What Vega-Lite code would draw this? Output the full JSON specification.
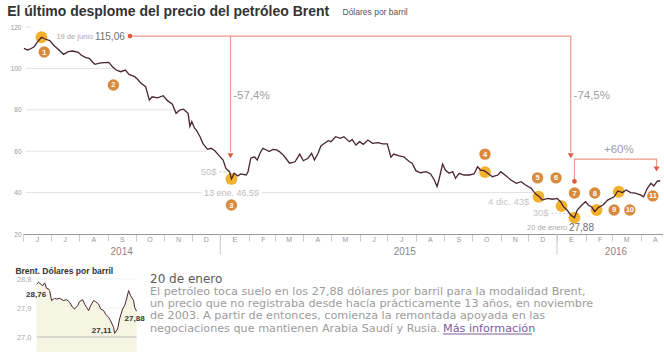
{
  "$schema": "https://vega.github.io/schema/vega-lite/v6.json",
  "background": "white",
  "padding": {"left": 7, "top": 5, "right": 0, "bottom": 0},
  "title": {"text": "El último desplome del precio del petróleo Brent", "anchor": "start", "fontSize": 14, "fontWeight": "bold", "font": "Liberation Sans", "color": "#333333", "offset": -12, "dx": -3},
  "spacing": 8,
  "config": {"view": {"stroke": null}, "font": "Liberation Sans", "axis": {"labelFont": "Liberation Sans Narrow, Liberation Sans, sans-serif"}},
  "datasets": {
    "insignias": [
      {"fecha": "2014-06-24", "precio": 107.9, "numero": "1"},
      {"fecha": "2014-09-07", "precio": 92.0, "numero": "2"},
      {"fecha": "2015-01-13", "precio": 34.0, "numero": "3"},
      {"fecha": "2015-10-15", "precio": 58.6, "numero": "4"},
      {"fecha": "2015-12-11", "precio": 47.1, "numero": "5"},
      {"fecha": "2015-12-31", "precio": 47.1, "numero": "6"},
      {"fecha": "2016-01-20", "precio": 39.8, "numero": "7"},
      {"fecha": "2016-02-11", "precio": 39.8, "numero": "8"},
      {"fecha": "2016-03-03", "precio": 31.6, "numero": "9"},
      {"fecha": "2016-03-20", "precio": 31.6, "numero": "10"},
      {"fecha": "2016-04-14", "precio": 38.4, "numero": "11"}
    ],
    "intradia": [
      {"minuto": 0, "precio": 28.64}, {"minuto": 2, "precio": 28.70}, {"minuto": 6, "precio": 28.59}, {"minuto": 8, "precio": 28.68},
      {"minuto": 10, "precio": 28.51}, {"minuto": 12, "precio": 28.49}, {"minuto": 13, "precio": 28.44}, {"minuto": 15, "precio": 28.13},
      {"minuto": 18, "precio": 28.20}, {"minuto": 20, "precio": 28.18}, {"minuto": 23, "precio": 28.20}, {"minuto": 27, "precio": 28.13},
      {"minuto": 30, "precio": 28.16}, {"minuto": 33, "precio": 28.08}, {"minuto": 36, "precio": 27.92}, {"minuto": 38, "precio": 27.87},
      {"minuto": 41, "precio": 27.97}, {"minuto": 43, "precio": 28.10}, {"minuto": 46, "precio": 28.16}, {"minuto": 48, "precio": 28.02},
      {"minuto": 50, "precio": 27.92}, {"minuto": 52, "precio": 27.82}, {"minuto": 54, "precio": 27.97}, {"minuto": 57, "precio": 28.13},
      {"minuto": 59, "precio": 28.10}, {"minuto": 62, "precio": 28.02}, {"minuto": 64, "precio": 27.87}, {"minuto": 67, "precio": 27.82},
      {"minuto": 69, "precio": 27.71}, {"minuto": 72, "precio": 27.61}, {"minuto": 74, "precio": 27.50}, {"minuto": 77, "precio": 27.30},
      {"minuto": 78, "precio": 27.11}, {"minuto": 81, "precio": 27.25}, {"minuto": 83, "precio": 27.56}, {"minuto": 86, "precio": 27.87},
      {"minuto": 88, "precio": 27.97}, {"minuto": 90, "precio": 28.18}, {"minuto": 92, "precio": 28.44}, {"minuto": 94, "precio": 28.28},
      {"minuto": 97, "precio": 28.13}, {"minuto": 98, "precio": 27.92}, {"minuto": 100, "precio": 27.80}
    ]
  },
  "vconcat": [
    {
      "width": 640,
      "height": 207,
      "encoding": {
        "x": {"field": "fecha", "type": "temporal",
          "scale": {"type": "utc", "domain": [{"year": 2014, "month": 6, "date": 1, "utc": true}, {"year": 2016, "month": 4, "date": 25, "utc": true}]},
          "axis": {"title": null, "grid": false, "tickCount": {"interval": "month", "step": 1},
            "labelExpr": "['E','F','M','A','M','J','J','A','S','O','N','D'][utcmonth(datum.value)]",
            "labelOffset": 14, "labelAlign": "center", "labelFontSize": 7, "labelColor": "#999999", "labelPadding": -6,
            "labelFlush": false, "labelOverlap": false, "labelBound": false,
            "tickSize": 7, "tickColor": "#cccccc", "domainColor": "#999999"}},
        "y": {"field": "precio", "type": "quantitative", "scale": {"domain": [20, 120]},
          "axis": {"values": [20, 40, 60, 80, 100, 120], "grid": false, "ticks": false, "tickSize": 0, "domain": false,
            "labelFontSize": 6.5, "labelColor": "#999999", "labelPadding": 2,
            "title": "Dólares por barril", "titleAngle": 0, "titleAlign": "left", "titleBaseline": "alphabetic",
            "titleX": 319, "titleY": -13, "titleFontSize": 8.5, "titleFontWeight": "normal", "titleColor": "#555555", "titleFont": "Liberation Sans"}}
      },
      "layer": [
        {
          "data": {"values": [
            {"fecha": "2014-06-04", "fecha2": "2014-06-10", "precio": 120},
            {"fecha": "2014-06-04", "fecha2": "2014-09-07", "precio": 100},
            {"fecha": "2014-06-04", "fecha2": "2014-11-12", "precio": 80},
            {"fecha": "2014-06-04", "fecha2": "2014-12-17", "precio": 60},
            {"fecha": "2014-06-04", "fecha2": "2015-12-11", "precio": 40}
          ]},
          "mark": {"type": "rule", "color": "#e2e2e2", "strokeWidth": 1},
          "encoding": {"x2": {"field": "fecha2"}}
        },
        {
          "data": {"values": [
            {"fecha": "2015-01-01", "precio": 20, "precio2": 10},
            {"fecha": "2016-01-01", "precio": 20, "precio2": 10}
          ]},
          "mark": {"type": "rule", "color": "#cccccc"},
          "encoding": {"y2": {"field": "precio2"}}
        },
        {
          "data": {"values": [
            {"fecha": "2014-12-31", "fecha2": "2015-01-12", "precio": 50},
            {"fecha": "2015-12-26", "fecha2": "2016-01-18", "precio": 30}
          ]},
          "mark": {"type": "rule", "color": "#c8c8c8", "strokeDash": [2, 2]},
          "encoding": {"x2": {"field": "fecha2"}}
        },
        {
          "data": {"values": [
            {"grupo": "A", "orden": 1, "fecha": "2014-09-25", "precio": 115.6},
            {"grupo": "A", "orden": 2, "fecha": "2015-01-12", "precio": 115.6},
            {"grupo": "A", "orden": 3, "fecha": "2015-01-12", "precio": 59.5},
            {"grupo": "B", "orden": 1, "fecha": "2015-01-12", "precio": 115.6},
            {"grupo": "B", "orden": 2, "fecha": "2016-01-16", "precio": 115.6},
            {"grupo": "B", "orden": 3, "fecha": "2016-01-16", "precio": 59.5},
            {"grupo": "C", "orden": 1, "fecha": "2016-01-20", "precio": 45.4},
            {"grupo": "C", "orden": 2, "fecha": "2016-01-20", "precio": 56.2},
            {"grupo": "C", "orden": 3, "fecha": "2016-04-18", "precio": 56.2},
            {"grupo": "C", "orden": 4, "fecha": "2016-04-18", "precio": 52.6}
          ]},
          "mark": {"type": "line", "color": "#eb9b86", "strokeWidth": 1.2},
          "encoding": {"detail": {"field": "grupo"}, "order": {"field": "orden"}}
        },
        {
          "data": {"values": [
            {"fecha": "2014-06-21", "precio": 115.06},
            {"fecha": "2015-01-13", "precio": 46.59},
            {"fecha": "2015-10-15", "precio": 49.9},
            {"fecha": "2015-12-12", "precio": 38.0},
            {"fecha": "2016-01-06", "precio": 33.5},
            {"fecha": "2016-01-20", "precio": 27.88},
            {"fecha": "2016-02-13", "precio": 31.6},
            {"fecha": "2016-03-08", "precio": 40.4}
          ]},
          "mark": {"type": "circle", "color": "#f2b22c", "size": 140, "opacity": 1},
          "encoding": {}
        },
        {
          "data": {"values": [
            {"fecha": "2014-06-02", "precio": 109.7}, {"fecha": "2014-06-06", "precio": 108.9}, {"fecha": "2014-06-10", "precio": 109.6},
            {"fecha": "2014-06-13", "precio": 110.5}, {"fecha": "2014-06-17", "precio": 112.9}, {"fecha": "2014-06-21", "precio": 115.06},
            {"fecha": "2014-06-25", "precio": 114.2}, {"fecha": "2014-06-30", "precio": 113.4}, {"fecha": "2014-07-04", "precio": 111.3},
            {"fecha": "2014-07-10", "precio": 108.9}, {"fecha": "2014-07-15", "precio": 106.8}, {"fecha": "2014-07-20", "precio": 108.1},
            {"fecha": "2014-07-25", "precio": 108.4}, {"fecha": "2014-07-31", "precio": 107.8}, {"fecha": "2014-08-03", "precio": 106.5},
            {"fecha": "2014-08-08", "precio": 105.2}, {"fecha": "2014-08-12", "precio": 104.9}, {"fecha": "2014-08-15", "precio": 103.2},
            {"fecha": "2014-08-18", "precio": 102.0}, {"fecha": "2014-08-23", "precio": 102.5}, {"fecha": "2014-08-28", "precio": 102.8},
            {"fecha": "2014-09-02", "precio": 102.9}, {"fecha": "2014-09-06", "precio": 100.8}, {"fecha": "2014-09-10", "precio": 99.2},
            {"fecha": "2014-09-15", "precio": 98.4}, {"fecha": "2014-09-20", "precio": 99.2}, {"fecha": "2014-09-24", "precio": 97.1},
            {"fecha": "2014-09-30", "precio": 96.0}, {"fecha": "2014-10-03", "precio": 94.9}, {"fecha": "2014-10-07", "precio": 92.8},
            {"fecha": "2014-10-12", "precio": 91.2}, {"fecha": "2014-10-16", "precio": 84.7}, {"fecha": "2014-10-19", "precio": 86.3},
            {"fecha": "2014-10-25", "precio": 85.8}, {"fecha": "2014-10-31", "precio": 86.8}, {"fecha": "2014-11-05", "precio": 84.3},
            {"fecha": "2014-11-10", "precio": 82.7}, {"fecha": "2014-11-14", "precio": 78.3}, {"fecha": "2014-11-18", "precio": 79.9},
            {"fecha": "2014-11-22", "precio": 80.3}, {"fecha": "2014-11-27", "precio": 78.3}, {"fecha": "2014-11-29", "precio": 72.0},
            {"fecha": "2014-12-01", "precio": 74.3}, {"fecha": "2014-12-04", "precio": 71.1}, {"fecha": "2014-12-06", "precio": 70.2},
            {"fecha": "2014-12-10", "precio": 67.0}, {"fecha": "2014-12-13", "precio": 63.8}, {"fecha": "2014-12-18", "precio": 60.9},
            {"fecha": "2014-12-22", "precio": 61.4}, {"fecha": "2014-12-26", "precio": 60.2}, {"fecha": "2014-12-30", "precio": 58.2},
            {"fecha": "2015-01-04", "precio": 55.7}, {"fecha": "2015-01-07", "precio": 51.7}, {"fecha": "2015-01-11", "precio": 50.1},
            {"fecha": "2015-01-13", "precio": 46.59}, {"fecha": "2015-01-16", "precio": 49.3}, {"fecha": "2015-01-20", "precio": 48.0},
            {"fecha": "2015-01-23", "precio": 49.0}, {"fecha": "2015-01-29", "precio": 48.5}, {"fecha": "2015-01-31", "precio": 50.1},
            {"fecha": "2015-02-03", "precio": 56.6}, {"fecha": "2015-02-07", "precio": 57.3}, {"fecha": "2015-02-10", "precio": 55.7},
            {"fecha": "2015-02-13", "precio": 59.0}, {"fecha": "2015-02-16", "precio": 61.4}, {"fecha": "2015-02-20", "precio": 60.6},
            {"fecha": "2015-02-23", "precio": 59.8}, {"fecha": "2015-02-27", "precio": 60.9}, {"fecha": "2015-03-03", "precio": 60.6},
            {"fecha": "2015-03-06", "precio": 59.8}, {"fecha": "2015-03-10", "precio": 58.2}, {"fecha": "2015-03-13", "precio": 56.6},
            {"fecha": "2015-03-17", "precio": 54.2}, {"fecha": "2015-03-23", "precio": 54.9}, {"fecha": "2015-03-28", "precio": 58.6},
            {"fecha": "2015-04-01", "precio": 55.4}, {"fecha": "2015-04-06", "precio": 56.6}, {"fecha": "2015-04-10", "precio": 59.0},
            {"fecha": "2015-04-13", "precio": 55.7}, {"fecha": "2015-04-17", "precio": 59.0}, {"fecha": "2015-04-20", "precio": 62.5},
            {"fecha": "2015-04-24", "precio": 63.8}, {"fecha": "2015-04-28", "precio": 65.1}, {"fecha": "2015-05-01", "precio": 64.6},
            {"fecha": "2015-05-06", "precio": 67.0}, {"fecha": "2015-05-11", "precio": 66.2}, {"fecha": "2015-05-15", "precio": 67.0},
            {"fecha": "2015-05-17", "precio": 66.2}, {"fecha": "2015-05-21", "precio": 64.6}, {"fecha": "2015-05-24", "precio": 65.7},
            {"fecha": "2015-05-28", "precio": 63.0}, {"fecha": "2015-06-01", "precio": 64.6}, {"fecha": "2015-06-05", "precio": 63.3},
            {"fecha": "2015-06-10", "precio": 65.4}, {"fecha": "2015-06-15", "precio": 63.8}, {"fecha": "2015-06-21", "precio": 64.1},
            {"fecha": "2015-06-26", "precio": 63.5}, {"fecha": "2015-07-01", "precio": 63.5}, {"fecha": "2015-07-05", "precio": 57.1},
            {"fecha": "2015-07-08", "precio": 58.6}, {"fecha": "2015-07-14", "precio": 57.7}, {"fecha": "2015-07-19", "precio": 57.3},
            {"fecha": "2015-07-25", "precio": 54.9}, {"fecha": "2015-07-28", "precio": 54.2}, {"fecha": "2015-08-01", "precio": 50.6},
            {"fecha": "2015-08-06", "precio": 49.6}, {"fecha": "2015-08-12", "precio": 50.1}, {"fecha": "2015-08-17", "precio": 49.0},
            {"fecha": "2015-08-21", "precio": 46.1}, {"fecha": "2015-08-24", "precio": 42.9}, {"fecha": "2015-08-26", "precio": 46.1},
            {"fecha": "2015-08-30", "precio": 53.8}, {"fecha": "2015-09-02", "precio": 50.9}, {"fecha": "2015-09-06", "precio": 49.3},
            {"fecha": "2015-09-10", "precio": 50.1}, {"fecha": "2015-09-13", "precio": 46.9}, {"fecha": "2015-09-17", "precio": 49.3},
            {"fecha": "2015-09-22", "precio": 48.5}, {"fecha": "2015-09-28", "precio": 48.5}, {"fecha": "2015-10-03", "precio": 49.0},
            {"fecha": "2015-10-07", "precio": 52.5}, {"fecha": "2015-10-10", "precio": 50.9}, {"fecha": "2015-10-14", "precio": 50.6},
            {"fecha": "2015-10-18", "precio": 49.3}, {"fecha": "2015-10-23", "precio": 47.7}, {"fecha": "2015-10-29", "precio": 48.5},
            {"fecha": "2015-11-01", "precio": 50.1}, {"fecha": "2015-11-07", "precio": 48.0}, {"fecha": "2015-11-12", "precio": 46.1},
            {"fecha": "2015-11-18", "precio": 44.5}, {"fecha": "2015-11-23", "precio": 45.3}, {"fecha": "2015-11-28", "precio": 43.7},
            {"fecha": "2015-12-04", "precio": 42.1}, {"fecha": "2015-12-09", "precio": 39.3}, {"fecha": "2015-12-13", "precio": 38.0},
            {"fecha": "2015-12-16", "precio": 36.4}, {"fecha": "2015-12-22", "precio": 37.2}, {"fecha": "2015-12-27", "precio": 36.8},
            {"fecha": "2016-01-01", "precio": 37.2}, {"fecha": "2016-01-05", "precio": 35.6}, {"fecha": "2016-01-08", "precio": 33.2},
            {"fecha": "2016-01-12", "precio": 31.6}, {"fecha": "2016-01-16", "precio": 29.2}, {"fecha": "2016-01-20", "precio": 27.88},
            {"fecha": "2016-01-23", "precio": 31.6}, {"fecha": "2016-01-28", "precio": 34.0}, {"fecha": "2016-02-01", "precio": 35.6},
            {"fecha": "2016-02-04", "precio": 34.0}, {"fecha": "2016-02-08", "precio": 32.9}, {"fecha": "2016-02-11", "precio": 30.8},
            {"fecha": "2016-02-15", "precio": 32.9}, {"fecha": "2016-02-20", "precio": 34.0}, {"fecha": "2016-02-25", "precio": 36.4},
            {"fecha": "2016-03-03", "precio": 38.0}, {"fecha": "2016-03-07", "precio": 40.8}, {"fecha": "2016-03-12", "precio": 40.0},
            {"fecha": "2016-03-16", "precio": 41.3}, {"fecha": "2016-03-21", "precio": 40.0}, {"fecha": "2016-03-26", "precio": 39.7},
            {"fecha": "2016-04-01", "precio": 38.8}, {"fecha": "2016-04-04", "precio": 38.0}, {"fecha": "2016-04-08", "precio": 42.1},
            {"fecha": "2016-04-12", "precio": 44.5}, {"fecha": "2016-04-15", "precio": 43.2}, {"fecha": "2016-04-19", "precio": 45.7},
            {"fecha": "2016-04-22", "precio": 45.6}
          ]},
          "mark": {"type": "line", "color": "#4a2433", "strokeWidth": 1.3},
          "encoding": {}
        },
        {
          "data": {"values": [
            {"fecha": "2015-01-12", "precio": 57.8},
            {"fecha": "2016-01-16", "precio": 57.8},
            {"fecha": "2016-04-18", "precio": 51.4}
          ]},
          "mark": {"type": "point", "shape": "triangle-down", "filled": true, "color": "#e2593d", "size": 35, "opacity": 1},
          "encoding": {}
        },
        {
          "data": {"values": [
            {"fecha": "2014-09-25", "precio": 115.6},
            {"fecha": "2016-01-20", "precio": 45.4}
          ]},
          "mark": {"type": "circle", "color": "#e2593d", "size": 22, "opacity": 1},
          "encoding": {}
        },
        {
          "data": {"name": "insignias"},
          "mark": {"type": "circle", "color": "#d98a3d", "size": 130, "opacity": 1},
          "encoding": {}
        },
        {
          "data": {"name": "insignias"},
          "mark": {"type": "text", "color": "white", "fontSize": 7.5, "fontWeight": "bold", "align": "center", "baseline": "middle", "dy": 0.5},
          "encoding": {"text": {"field": "numero"}}
        },
        {
          "data": {"values": [{"fecha": "2015-01-13", "precio": 40, "texto": "13 ene. 46,59"}]},
          "mark": {"type": "text", "fontSize": 9, "color": "white", "stroke": "white", "strokeWidth": 6, "align": "center", "baseline": "middle"},
          "encoding": {"text": {"field": "texto"}}
        },
        {
          "data": {"values": [{"fecha": "2015-01-13", "precio": 40, "texto": "13 ene. 46,59"}]},
          "mark": {"type": "text", "fontSize": 9, "color": "#bbbbbb", "align": "center", "baseline": "middle"},
          "encoding": {"text": {"field": "texto"}}
        },
        {
          "data": {"values": [
            {"fecha": "2014-12-28", "precio": 50, "texto": "50$"},
            {"fecha": "2015-12-02", "precio": 35.6, "texto": "4 dic. 43$"},
            {"fecha": "2015-12-23", "precio": 30, "texto": "30$"}
          ]},
          "mark": {"type": "text", "fontSize": 9.5, "color": "#c5c5c5", "align": "right", "baseline": "middle"},
          "encoding": {"text": {"field": "texto"}}
        },
        {
          "data": {"values": [
            {"fecha": "2014-08-16", "precio": 115.2, "texto": "19 de junio"},
            {"fecha": "2016-01-12", "precio": 22.9, "texto": "20 de enero"}
          ]},
          "mark": {"type": "text", "fontSize": 7.5, "color": "#aaaaaa", "align": "right", "baseline": "middle"},
          "encoding": {"text": {"field": "texto"}}
        },
        {
          "data": {"values": [
            {"fecha": "2014-08-18", "precio": 115.2, "texto": "115,06"},
            {"fecha": "2016-01-14", "precio": 22.9, "texto": "27,88"}
          ]},
          "mark": {"type": "text", "fontSize": 10, "font": "Liberation Sans Narrow, Liberation Sans, sans-serif", "color": "#707070", "align": "left", "baseline": "middle"},
          "encoding": {"text": {"field": "texto"}}
        },
        {
          "data": {"values": [
            {"fecha": "2015-01-15", "precio": 86.7, "texto": "-57,4%"},
            {"fecha": "2016-01-19", "precio": 86.7, "texto": "-74,5%"},
            {"fecha": "2016-02-21", "precio": 60.6, "texto": "+60%"}
          ]},
          "mark": {"type": "text", "fontSize": 11.5, "color": "#a0a0a0", "align": "left", "baseline": "middle"},
          "encoding": {"text": {"field": "texto"}}
        },
        {
          "data": {"values": [
            {"fecha": "2014-09-16", "precio": 11.1, "texto": "2014"},
            {"fecha": "2015-07-20", "precio": 11.1, "texto": "2015"},
            {"fecha": "2016-03-05", "precio": 11.1, "texto": "2016"}
          ]},
          "mark": {"type": "text", "fontSize": 10, "color": "#888888", "align": "center", "baseline": "middle"},
          "encoding": {"text": {"field": "texto"}}
        }
      ]
    },
    {
      "spacing": 5,
      "hconcat": [
        {
          "width": 113.6,
          "height": 58,
          "title": {"text": "Brent. Dólares por barril", "anchor": "start", "fontSize": 8.5, "font": "Liberation Sans Narrow, Liberation Sans, sans-serif", "fontWeight": "bold", "color": "#333333", "offset": 0, "dx": -1},
          "encoding": {
            "x": {"field": "minuto", "type": "quantitative", "scale": {"domain": [-13.6, 100], "nice": false, "zero": false},
              "axis": {"title": "20 de enero de 2006", "labels": false, "ticks": false, "grid": false, "domain": false,
                "titleX": 61, "titleFontSize": 7.5, "titleFontWeight": "normal", "titleColor": "#999999", "titlePadding": 1,
                "titleFont": "Liberation Sans Narrow, Liberation Sans, sans-serif"}},
            "y": {"field": "precio", "type": "quantitative", "scale": {"domain": [27, 28.8], "zero": false, "nice": false},
              "axis": {"values": [27, 27.9, 28.8], "labelExpr": "replace(format(datum.value,'.1f'),'.',',')",
                "labelFontSize": 7.5, "labelColor": "#aaaaaa", "labelAlign": "right", "labelPadding": -8, "ticks": false, "tickSize": 0, "domain": false,
                "grid": false, "title": null}}
          },
          "layer": [
            {
              "data": {"values": [
                {"minuto": 0, "minuto2": 100, "precio": 28.8},
                {"minuto": 0, "minuto2": 100, "precio": 27.9}
              ]},
              "mark": {"type": "rule", "color": "#efefef"},
              "encoding": {"x2": {"field": "minuto2"}}
            },
            {"data": {"name": "intradia"}, "mark": {"type": "area", "color": "#f4f5e2"}, "encoding": {}},
            {
              "data": {"values": [{"minuto": 0, "minuto2": 100, "precio": 27.0}]},
              "mark": {"type": "rule", "color": "#bbbbbb"},
              "encoding": {"x2": {"field": "minuto2"}}
            },
            {"data": {"name": "intradia"}, "mark": {"type": "line", "color": "#4a2433", "strokeWidth": 1}, "encoding": {}},
            {
              "data": {"values": [
                {"minuto": -0.5, "precio": 28.30, "texto": "28,76"},
                {"minuto": 65, "precio": 27.19, "texto": "27,11"},
                {"minuto": 98, "precio": 27.56, "texto": "27,88"}
              ]},
              "mark": {"type": "text", "fontSize": 8, "fontWeight": "bold", "color": "#333333", "align": "center", "baseline": "middle", "font": "Liberation Sans Narrow, Liberation Sans, sans-serif"},
              "encoding": {"text": {"field": "texto"}}
            }
          ]
        },
        {
          "width": 440,
          "height": 52.5,
          "encoding": {
            "x": {"field": "col", "type": "quantitative", "scale": {"domain": [0, 1]}, "axis": null},
            "y": {"field": "fila", "type": "quantitative", "scale": {"domain": [-0.33, 4], "reverse": true}, "axis": null}
          },
          "layer": [
            {
              "data": {"values": [{"col": 0, "fila": 0, "texto": "20 de enero"}]},
              "mark": {"type": "text", "align": "left", "baseline": "alphabetic", "font": "DejaVu Sans", "fontSize": 12, "color": "#5a5a5a"},
              "encoding": {"text": {"field": "texto"}}
            },
            {
              "data": {"values": [
                {"col": 0, "fila": 1, "texto": "El petróleo toca suelo en los 27,88 dólares por barril para la modalidad Brent,"},
                {"col": 0, "fila": 2, "texto": "un precio que no registraba desde hacía prácticamente 13 años, en noviembre"},
                {"col": 0, "fila": 3, "texto": "de 2003. A partir de entonces, comienza la remontada apoyada en las"},
                {"col": 0, "fila": 4, "texto": "negociaciones que mantienen Arabia Saudí y Rusia."}
              ]},
              "mark": {"type": "text", "align": "left", "baseline": "alphabetic", "font": "DejaVu Sans", "fontSize": 11.2, "color": "#9c9c9c"},
              "encoding": {"text": {"field": "texto"}}
            },
            {
              "data": {"values": [{"col": 0, "fila": 4, "texto": "Más información"}]},
              "mark": {"type": "text", "align": "left", "baseline": "alphabetic", "font": "DejaVu Sans", "fontSize": 11.2, "color": "#7d5a9c", "dx": 293},
              "encoding": {"text": {"field": "texto"}}
            },
            {
              "data": {"values": [{"col": 0, "fila": 4}]},
              "mark": {"type": "rule", "color": "#7d5a9c", "strokeWidth": 1, "xOffset": 293, "x2Offset": 382, "yOffset": 2.5},
              "encoding": {"x2": {"field": "col"}}
            }
          ]
        }
      ]
    }
  ]
}
